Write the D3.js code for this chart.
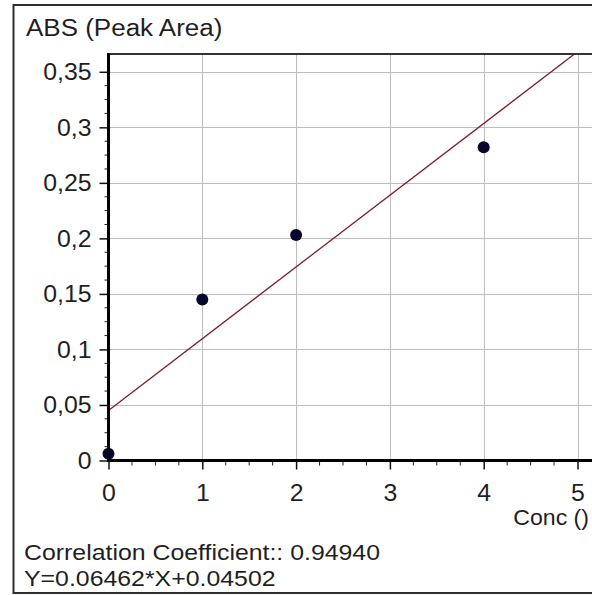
<!DOCTYPE html>
<html>
<head>
<meta charset="utf-8">
<script src="https://cdn.jsdelivr.net/npm/d3@7"></script>
<style>
  html, body { margin: 0; padding: 0; background: #fff; }
  svg { display: block; }
  text { font-family: "Liberation Sans", Arial, sans-serif; fill: #1f1f1f; }
</style>
</head>
<body>
<svg id="chart" width="592" height="595"></svg>
<script>
// Calibration standards: concentration vs. absorbance (peak area)
const concentrations = [0, 1, 2, 4];
const absorbances = [0.006, 0.145, 0.203, 0.282];

// Least-squares fit reported under the chart
const fitSlope = 0.06462;
const fitIntercept = 0.04502;
const correlation = 0.94940;

// Axis ticks and their labels (comma decimal separator)
const yTickValues = [0, 0.05, 0.1, 0.15, 0.2, 0.25, 0.3, 0.35];
const yTickLabels = ["0", "0,05", "0,1", "0,15", "0,2", "0,25", "0,3", "0,35"];
const xTickValues = [0, 1, 2, 3, 4, 5];
const xTickLabels = ["0", "1", "2", "3", "4", "5"];

const yTitle = "ABS (Peak Area)";
const xTitle = "Conc ()";

const svg = d3.select("#chart");
const FONT = 23;
const STRETCH = 1.08;

// Plot frame
const plot = { left: 108.5, top: 54, right: 640, bottom: 460.5 };

const x = d3.scaleLinear().domain([0, 5]).range([108.5, 577.5]);
const y = d3.scaleLinear().domain([0, 0.35]).range([460.5, 71.8]);

// helper for slightly wide label text
function label(g, tx, ty, str, anchor, size, stretch) {
  return g.append("text")
    .attr("transform", `translate(${tx},${ty}) scale(${stretch || STRETCH},1)`)
    .attr("text-anchor", anchor || "start")
    .attr("font-size", size || FONT)
    .text(str);
}

// Outer panel border
svg.append("path")
  .attr("d", `M 700 5 H 13.5 V 593 H 700`)
  .attr("fill", "none")
  .attr("stroke", "#2e2e2e")
  .attr("stroke-width", 2);

svg.append("defs").append("clipPath").attr("id", "plotClip")
  .append("rect")
  .attr("x", plot.left).attr("y", plot.top)
  .attr("width", plot.right - plot.left).attr("height", plot.bottom - plot.top);

// Grid
const grid = svg.append("g").attr("stroke", "#bdbdbd").attr("stroke-width", 1);
grid.selectAll("line.gx").data(xTickValues.slice(1)).join("line")
  .attr("x1", d => Math.round(x(d)) + 0.5).attr("x2", d => Math.round(x(d)) + 0.5)
  .attr("y1", plot.top).attr("y2", plot.bottom);
grid.selectAll("line.gy").data(yTickValues.slice(1)).join("line")
  .attr("y1", d => Math.round(y(d)) + 0.5).attr("y2", d => Math.round(y(d)) + 0.5)
  .attr("x1", plot.left).attr("x2", plot.right);

// Regression line
const xEnd = x.invert(plot.right);
svg.append("g").attr("clip-path", "url(#plotClip)")
  .append("line")
  .attr("x1", x(0)).attr("y1", y(fitIntercept))
  .attr("x2", x(xEnd)).attr("y2", y(fitSlope * xEnd + fitIntercept))
  .attr("stroke", "#7d1f2c")
  .attr("stroke-width", 1.3);

// Data points
svg.append("g").selectAll("circle")
  .data(concentrations.map((c, i) => [c, absorbances[i]]))
  .join("circle")
  .attr("cx", d => x(d[0]))
  .attr("cy", d => y(d[1]))
  .attr("r", 6)
  .attr("fill", "#07072e");

// Plot top border
svg.append("line")
  .attr("x1", plot.left).attr("x2", 700)
  .attr("y1", plot.top).attr("y2", plot.top)
  .attr("stroke", "#333").attr("stroke-width", 2);

// Minor ticks
const xMinor = d3.range(0, 5.01, 0.25).filter(v => Math.abs(v - Math.round(v)) > 1e-6);
svg.append("g").selectAll("line").data(xMinor).join("line")
  .attr("x1", d => x(d)).attr("x2", d => x(d))
  .attr("y1", plot.bottom).attr("y2", plot.bottom + 5)
  .attr("stroke", "#222").attr("stroke-width", 1);
const yMinor = d3.range(0, 0.3501, 0.0125).filter(v => Math.abs(v / 0.05 - Math.round(v / 0.05)) > 1e-6);
svg.append("g").selectAll("line").data(yMinor).join("line")
  .attr("y1", d => y(d)).attr("y2", d => y(d))
  .attr("x1", plot.left - 4).attr("x2", plot.left)
  .attr("stroke", "#222").attr("stroke-width", 1);

// Axes via d3-axis
const xAxis = d3.axisBottom(x).tickValues(xTickValues).tickFormat((d, i) => xTickLabels[i])
  .tickSizeInner(9).tickSizeOuter(0).tickPadding(10);
const gx = svg.append("g").attr("transform", `translate(0,${plot.bottom})`).call(xAxis);
gx.select(".domain").remove();
gx.selectAll(".tick line").attr("stroke", "#111").attr("stroke-width", 1.5);
gx.selectAll(".tick text").remove();
gx.selectAll(".tick").each(function (d, i) {
  label(d3.select(this), 0, 40, xTickLabels[i], "middle");
});

const yAxis = d3.axisLeft(y).tickValues(yTickValues).tickFormat((d, i) => yTickLabels[i])
  .tickSizeInner(9).tickSizeOuter(0);
const gy = svg.append("g").attr("transform", `translate(${plot.left},0)`).call(yAxis);
gy.select(".domain").remove();
gy.selectAll(".tick line").attr("stroke", "#111").attr("stroke-width", 1.5);
gy.selectAll(".tick text").remove();
gy.selectAll(".tick").each(function (d, i) {
  label(d3.select(this), -17, 8, yTickLabels[i], "end");
});

// Heavy axis lines
svg.append("line")
  .attr("x1", plot.left).attr("x2", 700)
  .attr("y1", plot.bottom).attr("y2", plot.bottom)
  .attr("stroke", "#000").attr("stroke-width", 3);
svg.append("line")
  .attr("x1", plot.left).attr("x2", plot.left)
  .attr("y1", plot.top - 1).attr("y2", plot.bottom + 1.5)
  .attr("stroke", "#000").attr("stroke-width", 3);

// Titles
label(svg, 26, 36, yTitle, "start", FONT, 1.13);
label(svg, 589, 525, xTitle, "end", 22, 1.05);

// Fit summary
label(svg, 24, 560, `Correlation Coefficient:: ${correlation.toFixed(5)}`, "start", 22, 1.13);
label(svg, 24, 586, `Y=${fitSlope.toFixed(5)}*X+${fitIntercept.toFixed(5)}`, "start", 22, 1.13);
</script>
</body>
</html>
